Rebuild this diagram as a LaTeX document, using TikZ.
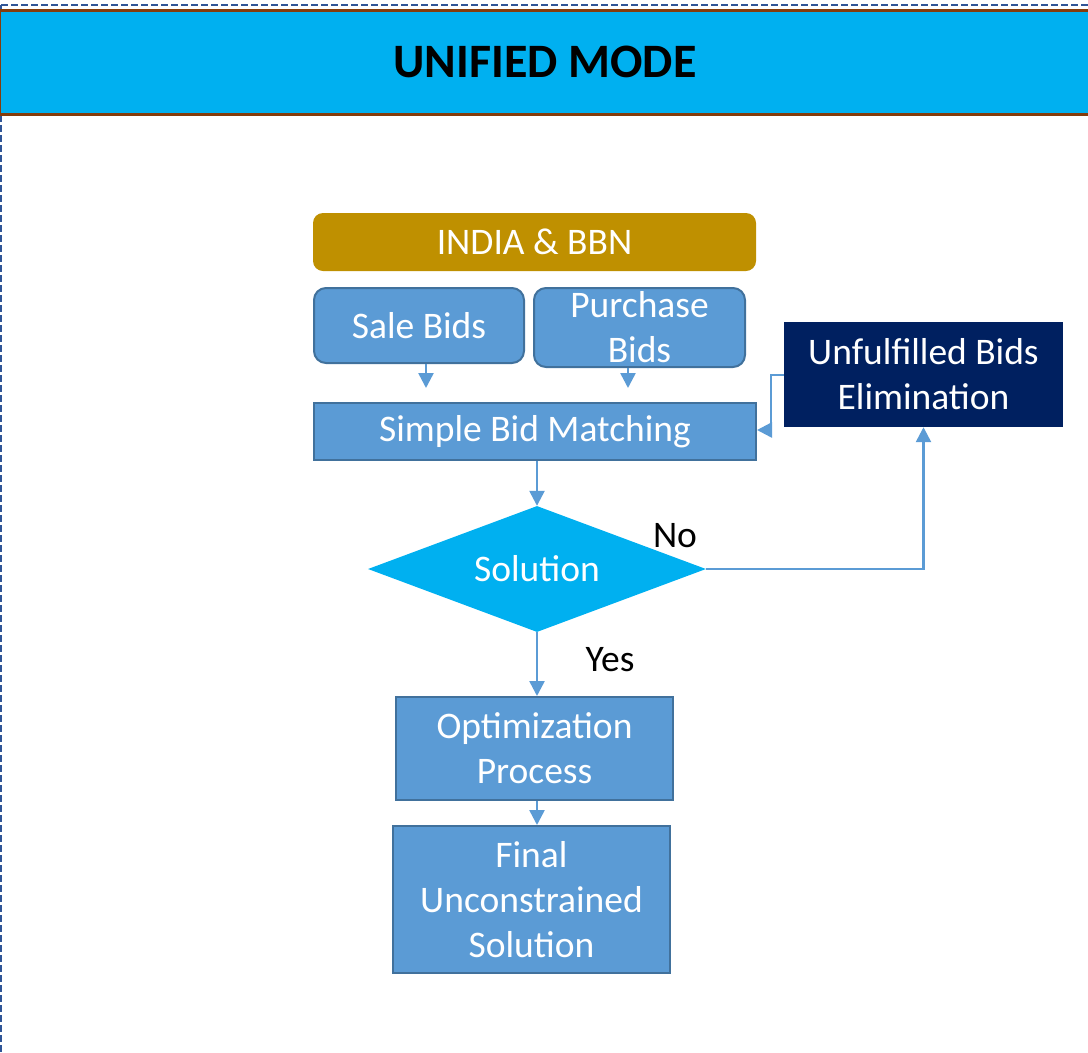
\documentclass[tikz,border=0pt]{standalone}
\usepackage{fontspec}
\setmainfont{Carlito}
\usetikzlibrary{shapes.geometric,arrows.meta}
\definecolor{hdr}{HTML}{00B0F0}
\definecolor{hdrline}{HTML}{843C0C}
\definecolor{frameblue}{HTML}{2F5597}
\definecolor{gold}{HTML}{BF9000}
\definecolor{boxblue}{HTML}{5B9BD5}
\definecolor{boxline}{HTML}{41719C}
\definecolor{navy}{HTML}{002060}
\tikzset{
  fbox/.style={draw=boxline, line width=2pt, fill=boxblue, text=white, align=center, inner sep=0pt,
    font=\fontsize{37.5}{45}\selectfont},
  rbox/.style={fbox, rounded corners=12pt},
  conn/.style={draw=boxblue, line width=2.5pt},
  arr/.style={conn, -{Triangle[length=15pt,width=15pt]}},
  lbl/.style={text=black, font=\fontsize{37.5}{45}\selectfont, inner sep=0pt}
}
\begin{document}
\begin{tikzpicture}[x=1pt,y=-1pt]
\useasboundingbox (0,0) rectangle (1088,1053);
% outer dashed frame
\draw[frameblue, line width=2.2pt, dash pattern=on 7pt off 3pt] (1,5) -- (1095,5);
\draw[frameblue, line width=2.2pt, dash pattern=on 7pt off 3pt] (1,5) -- (1,1060);
% header
\node[draw=hdrline, line width=3pt, fill=hdr, minimum width=1092pt, minimum height=104pt, inner sep=0pt,
  font=\fontsize{48}{56}\selectfont\bfseries, text=black] (hdr) at (545,62) {UNIFIED MODE};
% nodes
\node[fill=gold, rounded corners=10pt, text=white, inner sep=0pt, minimum width=443pt, minimum height=58pt,
  font=\fontsize{37.5}{45}\selectfont] (india) at (534.5,242) {INDIA \& BBN};
\node[rbox, minimum width=210pt, minimum height=75pt] (sale) at (419,325.5) {Sale Bids};
\node[rbox, minimum width=211pt, minimum height=79pt] (purch) at (639.5,327.5) {Purchase\\Bids};
\node[fbox, minimum width=442pt, minimum height=57pt] (sbm) at (535,431.5) {\raisebox{-3pt}{Simple Bid Matching}};
\node[fill=navy, text=white, align=center, inner sep=0pt, minimum width=279pt, minimum height=105pt,
  font=\fontsize{37.5}{45}\selectfont] (unf) at (923.5,374.5) {Unfulfilled Bids\\Elimination};
\node[diamond, aspect=2.68, fill=hdr, text=white, inner sep=0pt, minimum width=338pt, minimum height=126pt,
  font=\fontsize{37.5}{45}\selectfont] (sol) at (537,569) {Solution};
\node[fbox, minimum width=277pt, minimum height=103pt] (opt) at (534.5,748.5) {Optimization\\Process};
\node[fbox, minimum width=277pt, minimum height=147pt] (fin) at (531.5,899.5) {Final\\Unconstrained\\Solution};
% labels
\node[lbl] (no) at (675,536) {No};
\node[lbl] (yes) at (610,660) {Yes};
% coordinates
\coordinate (sa) at (426,388);
\coordinate (pa) at (628,388);
\coordinate (bend) at (771,375);
% connectors
\draw[arr] (sale.south -| sa) -- (sa);
\draw[arr] (purch.south -| pa) -- (pa);
\draw[conn, -{Triangle[length=15pt,width=15pt]}] (unf.west |- bend) -- (bend) -- (bend |- 0,430) -- (sbm.east |- 0,430);
\draw[arr] (sbm.south -| sol.north) -- (sol.north);
\draw[arr] (sol.east) -| (unf.south);
\draw[arr] (sol.south) -- (sol.south |- opt.north);
\draw[arr] (opt.south -| 537,0) -- (fin.north -| 537,0);
\end{tikzpicture}
\end{document}
